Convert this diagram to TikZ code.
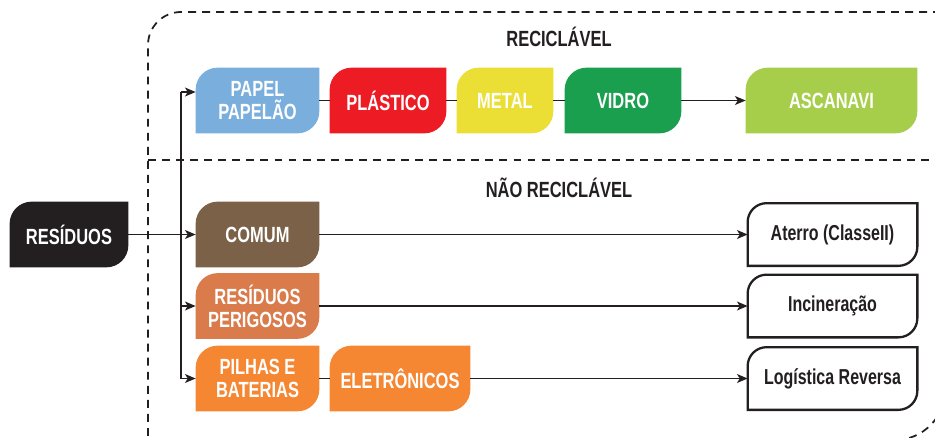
\documentclass[tikz,border=0pt]{standalone}
\usepackage{fontspec}
\setmainfont{Liberation Sans}[FakeStretch=0.75]
\newfontfamily\destfont{Liberation Sans}[FakeStretch=0.74]
\usetikzlibrary{arrows.meta,backgrounds}

\definecolor{cpreto}{HTML}{231F20}
\definecolor{cpapel}{HTML}{7AAEDC}
\definecolor{cplastico}{HTML}{ED1C24}
\definecolor{cmetal}{HTML}{EBDF36}
\definecolor{cvidro}{HTML}{1A9F4F}
\definecolor{cascanavi}{HTML}{A6CE4A}
\definecolor{ccomum}{HTML}{7A6148}
\definecolor{cperigo}{HTML}{D97B4B}
\definecolor{cpilha}{HTML}{F58733}

\tikzset{
    box/.style={minimum width=#1, minimum height=1.3cm, inner sep=0pt,
        align=center, text=white, font=\bfseries\fontsize{12.5}{13.2}\selectfont},
    box/.default=2.46cm,
    destino/.style={minimum width=3.38cm, minimum height=1.24cm, inner sep=0pt,
        text=cpreto, font=\destfont\bfseries\fontsize{12.3}{13}\selectfont},
    titulo/.style={text=cpreto, font=\bfseries\fontsize{12.5}{13}\selectfont},
    liga/.style={line width=1pt, cpreto},
    seta/.style={liga, -{Stealth[length=6pt,width=5pt,inset=1.5pt]}},
    moldura/.style={line width=1pt, cpreto, dash pattern=on 4.5pt off 3.5pt},
}

% caixa com dois cantos arredondados
\newcommand{\folha}[3]{%
    \path[#3] (#1.south west) -- ([yshift=-#2]#1.north west)
        arc[start angle=180, end angle=90, radius=#2] -- (#1.north east)
        -- ([yshift=#2]#1.south east)
        arc[start angle=0, end angle=-90, radius=#2] -- cycle;}

\begin{document}
\begin{tikzpicture}
        \path[use as bounding box, clip] (0,0) rectangle (18.7,-8.74);

        \draw[moldura] (2.96,-9) -- (2.96,-0.9)
            arc[start angle=180, end angle=90, radius=0.66cm] -- (19,-0.24);
        \draw[moldura] (2.96,-3.2) -- (19,-3.2);
        \draw[moldura] (18.9,-7.8) arc[start angle=0, end angle=-90, radius=1cm];

        \node (rec) [titulo] at (11.18,-0.74) {RECICLÁVEL};
        \node (nrec) [titulo] at (11.18,-3.76) {NÃO RECICLÁVEL};

        \node (res) [box=2.36cm] at (1.38,-4.69) {RESÍDUOS};

        \node (pap) [box] at (5.15,-2.01) {PAPEL\\PAPELÃO};
        \node (pla) [box=2.32cm] at (7.76,-2.01) {PLÁSTICO};
        \node (met) [box=1.92cm] at (10.1,-2.01) {METAL};
        \node (vid) [box=2.32cm] at (12.46,-2.01) {VIDRO};
        \node (asc) [box=3.42cm] at (16.63,-2.01) {ASCANAVI};

        \node (com) [box] at (5.15,-4.69) {COMUM};
        \node (per) [box] at (5.15,-6.12) {RESÍDUOS\\PERIGOSOS};
        \node (pil) [box] at (5.15,-7.57) {PILHAS E\\BATERIAS};
        \node (ele) [box=2.8cm] at (8.0,-7.57) {ELETRÔNICOS};

        \node (ate) [destino] at (16.65,-4.69) {Aterro (ClasseII)};
        \node (inc) [destino] at (16.65,-6.12) {Incineração};
        \node (log) [destino] at (16.65,-7.57) {Logística Reversa};

        \begin{scope}[on background layer]
            \foreach \n/\c in {res/cpreto, pap/cpapel, pla/cplastico, met/cmetal,
                vid/cvidro, asc/cascanavi, com/ccomum, per/cperigo, pil/cpilha, ele/cpilha}
                {\folha{\n}{0.44cm}{fill=\c}}
            \foreach \n in {ate, inc, log}
                {\folha{\n}{0.38cm}{draw=cpreto, line width=1.3pt, fill=white}}
        \end{scope}

        \coordinate (tronco) at (3.62,-1.84);
        \draw[liga] (tronco) -- (tronco |- pil.west);
        \draw[seta] (tronco) -- (tronco -| pap.west);
        \draw[seta] (res) -- (com);
        \draw[seta] (tronco |- per.west) -- (per.west);
        \draw[seta] (tronco |- pil.west) -- (pil.west);

        \draw[liga] (pap) -- (pla) -- (met) -- (vid);
        \draw[seta] (vid) -- (asc);
        \draw[seta] (com) -- (ate);
        \draw[seta] (per) -- (inc);
        \draw[liga] (pil) -- (ele);
        \draw[seta] (ele) -- (log);
    \end{tikzpicture}
\end{document}
